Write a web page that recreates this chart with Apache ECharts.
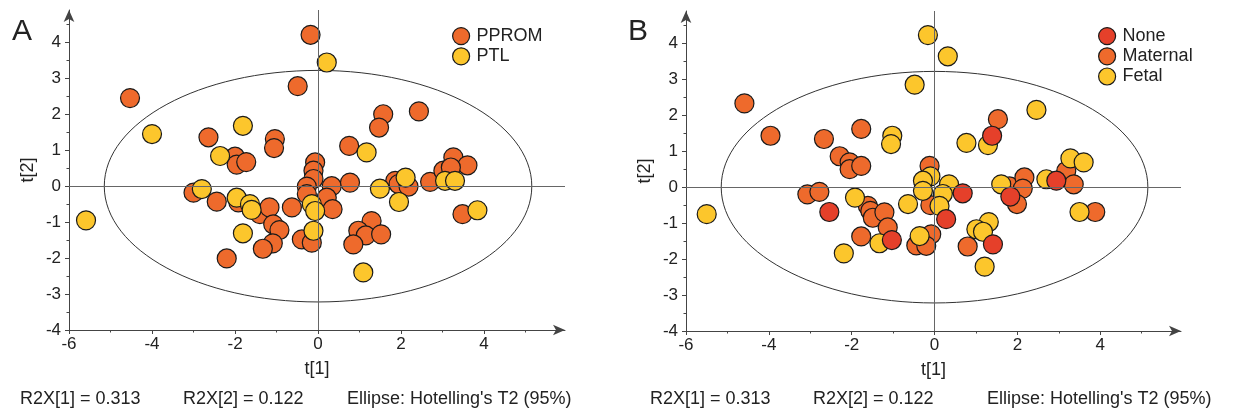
<!DOCTYPE html>
<html>
<head>
<meta charset="utf-8">
<script src="https://cdn.jsdelivr.net/npm/echarts@6/dist/echarts.min.js"></script>
<style>
  html, body { margin: 0; padding: 0; background: #fff; }
  #chart { width: 1233px; height: 414px; }
</style>
</head>
<body>
<div id="chart"></div>
<script>
// scores, panel A (PPROM / PTL)
var pprom = [[-4.53,2.45],[-0.18,4.21],[-0.49,2.78],[-2.64,1.36],[-1.04,1.31],[-1.06,1.06],[-2.0,0.82],[-1.96,0.6],[-1.73,0.67],
  [-3.0,-0.18],[-2.44,-0.43],[-1.92,-0.45],[-1.4,-0.78],[-1.17,-0.59],[-1.08,-1.06],[-0.93,-1.22],[-1.09,-1.59],[-1.33,-1.74],
  [-2.2,-2.01],[-0.63,-0.59],[-0.39,-1.48],[-0.15,-1.57],[-0.07,0.66],[-0.11,0.43],[-0.11,0.2],[-0.27,-0.01],[-0.27,-0.22],
  [0.33,0.0],[0.21,-0.32],[0.35,-0.64],[1.57,2.0],[1.47,1.63],[2.43,2.08],[0.75,1.12],[0.77,0.1],[1.86,0.15],[1.94,0.06],
  [2.18,-0.01],[2.7,0.12],[3.26,0.8],[3.6,0.58],[3.02,0.43],[3.2,0.52],[3.48,-0.78],[1.29,-0.97],[0.97,-1.24],[1.15,-1.37],
  [1.52,-1.34],[0.85,-1.62]];
var ptl = [[-4.0,1.45],[-5.59,-0.95],[0.21,3.44],[-1.81,1.68],[-2.36,0.84],[-2.8,-0.08],[-1.96,-0.32],[-1.64,-0.5],[-1.6,-0.66],
  [-1.81,-1.31],[-0.11,-1.24],[-0.15,-0.5],[-0.07,-0.69],[1.17,0.94],[1.49,-0.07],[2.11,0.24],[1.95,-0.44],[3.06,0.15],
  [3.3,0.15],[3.84,-0.67],[1.09,-2.4]];

// scores, panel B (None / Maternal / Fetal)
var none = [[-2.54,-0.69],[-1.03,-1.47],[0.28,-0.89],[1.39,1.43],[0.68,-0.17],[1.83,-0.26],[2.94,0.18],[1.41,-1.59]];
var maternal = [[-4.59,2.33],[-3.96,1.43],[-2.67,1.34],[-1.77,1.62],[-2.29,0.86],[-2.05,0.69],[-2.05,0.5],[-1.77,0.59],
  [-3.07,-0.2],[-2.78,-0.13],[-1.61,-0.52],[-1.55,-0.66],[-1.49,-0.85],[-1.21,-0.7],[-1.13,-1.12],[-1.77,-1.37],
  [-0.12,0.59],[-0.1,-0.5],[-0.08,-1.31],[-0.44,-1.62],[-0.2,-1.63],[1.53,1.89],[1.81,0.02],[2.17,0.27],[2.13,-0.04],
  [1.99,-0.47],[3.18,0.45],[3.36,0.08],[3.88,-0.69],[0.8,-1.65]];
var fetal = [[-5.5,-0.75],[-0.16,4.23],[0.32,3.64],[-0.48,2.85],[-1.02,1.43],[-1.05,1.2],[-1.92,-0.29],[-1.33,-1.56],
  [-2.19,-1.84],[-0.64,-0.47],[-0.1,0.3],[-0.28,0.18],[-0.28,-0.1],[0.35,0.08],[0.2,-0.19],[0.12,-0.52],[-0.36,-1.36],
  [2.46,2.15],[1.29,1.17],[0.77,1.23],[1.61,0.08],[2.7,0.22],[3.28,0.8],[3.6,0.69],[3.5,-0.69],[1.31,-0.97],
  [1.01,-1.17],[1.17,-1.24],[1.21,-2.21]];

// Hotelling's T2 ellipse semi-axes
var ellipseA = [5.15, 3.22];
var ellipseB = [5.15, 3.22];

// labelled ticks
var xTicks = [-6, -4, -2, 0, 2, 4];
var yTicks = [-4, -3, -2, -1, 0, 1, 2, 3, 4];

var legendA = ['PPROM', 'PTL'];
var legendB = ['None', 'Maternal', 'Fetal'];
var footer = ['R2X[1] = 0.313', 'R2X[2] = 0.122', "Ellipse: Hotelling's T2 (95%)"];

var FONT = 'Liberation Sans, Arial, sans-serif';
var colors = { orange: '#EE6A2C', yellow: '#FCC62C', red: '#E5402A' };

function xAx(gi) {
    return {
        gridIndex: gi, type: 'value', min: -6, max: 5.95, interval: 2,
        name: 't[1]', nameLocation: 'middle', nameGap: 30,
        nameTextStyle: { fontFamily: FONT, fontSize: 18, color: '#222' },
        axisLine: { onZero: false, symbol: ['none', 'arrow'], symbolSize: [8, 12], lineStyle: { color: '#444', width: 1 } },
        axisTick: { length: 4, customValues: xTicks, lineStyle: { color: '#444' } },
        minorTick: { show: true, splitNumber: 2, length: 2.5, lineStyle: { color: '#444' } },
        axisLabel: { customValues: xTicks, fontFamily: FONT, fontSize: 17, color: '#222', margin: 6 },
        splitLine: { show: false }
    };
}
function yAx(gi) {
    return {
        gridIndex: gi, type: 'value', min: -4, max: 4.9, interval: 1,
        name: 't[2]', nameLocation: 'middle', nameGap: 32,
        nameTextStyle: { fontFamily: FONT, fontSize: 18, color: '#222' },
        axisLine: { onZero: false, symbol: ['none', 'arrow'], symbolSize: [8, 12], lineStyle: { color: '#444', width: 1 } },
        axisTick: { length: 4, customValues: yTicks, lineStyle: { color: '#444' } },
        minorTick: { show: true, splitNumber: 2, length: 2.5, lineStyle: { color: '#444' } },
        axisLabel: { customValues: yTicks, fontFamily: FONT, fontSize: 17, color: '#222', margin: 8 },
        splitLine: { show: false }
    };
}

function ellipse(idx, ax) {
    return {
        type: 'custom', xAxisIndex: idx, yAxisIndex: idx, silent: true, z: 1,
        data: [[0, 0]],
        renderItem: function (params, api) {
            var c = api.coord([api.value(0), api.value(1)]);
            var rx = api.size([ax[0], 0])[0];
            var ry = api.size([0, ax[1]])[1];
            return {
                type: 'ellipse',
                shape: { cx: c[0], cy: c[1], rx: rx, ry: ry },
                style: { fill: 'none', stroke: '#333', lineWidth: 1 }
            };
        }
    };
}

function originLines() {
    return {
        silent: true, symbol: 'none', label: { show: false },
        lineStyle: { color: '#666', width: 1, type: 'solid' },
        data: [{ xAxis: 0 }, { yAxis: 0 }]
    };
}

function pts(name, idx, data, color, withLines) {
    var s = {
        name: name, type: 'scatter', xAxisIndex: idx, yAxisIndex: idx, z: 3,
        data: data, symbolSize: 19,
        itemStyle: { color: color, opacity: 1, borderColor: '#1a1a1a', borderWidth: 1.2 }
    };
    if (withLines) s.markLine = originLines();
    return s;
}

var legendStyle = {
    orient: 'vertical', icon: 'circle', itemWidth: 17, itemHeight: 17, itemGap: 2,
    itemStyle: { borderColor: '#1a1a1a', borderWidth: 1.2 },
    textStyle: { fontFamily: FONT, fontSize: 18, color: '#222', padding: [0, 0, 0, 2] }
};

var textEls = [];
function addText(x, y, s, size) {
    textEls.push({ type: 'text', left: x, top: y, style: { text: s, fontFamily: FONT, fontSize: size, fill: '#222' } });
}
addText(12, 17, 'A', 30);
addText(628, 17, 'B', 30);
addText(20, 390, footer[0], 18);
addText(183, 390, footer[1], 18);
addText(347, 390, footer[2], 18);
addText(650, 390, footer[0], 18);
addText(813, 390, footer[1], 18);
addText(987, 390, footer[2], 18);

var myChart = echarts.init(document.getElementById('chart'));
myChart.setOption({
    backgroundColor: '#fff',
    animation: false,
    grid: [
        { left: 69, top: 10, width: 496, height: 320, outerBoundsMode: 'none' },
        { left: 686, top: 11, width: 495, height: 320, outerBoundsMode: 'none' }
    ],
    xAxis: [xAx(0), xAx(1)],
    yAxis: [yAx(0), yAx(1)],
    legend: [
        Object.assign({ data: legendA, left: 447, top: 22 }, legendStyle),
        Object.assign({ data: legendB, left: 1093, top: 22 }, legendStyle)
    ],
    graphic: { elements: textEls },
    series: [
        ellipse(0, ellipseA),
        pts('PPROM', 0, pprom, colors.orange, true),
        pts('PTL', 0, ptl, colors.yellow, false),
        ellipse(1, ellipseB),
        pts('Maternal', 1, maternal, colors.orange, true),
        pts('Fetal', 1, fetal, colors.yellow, false),
        pts('None', 1, none, colors.red, false)
    ]
});
</script>
</body>
</html>
